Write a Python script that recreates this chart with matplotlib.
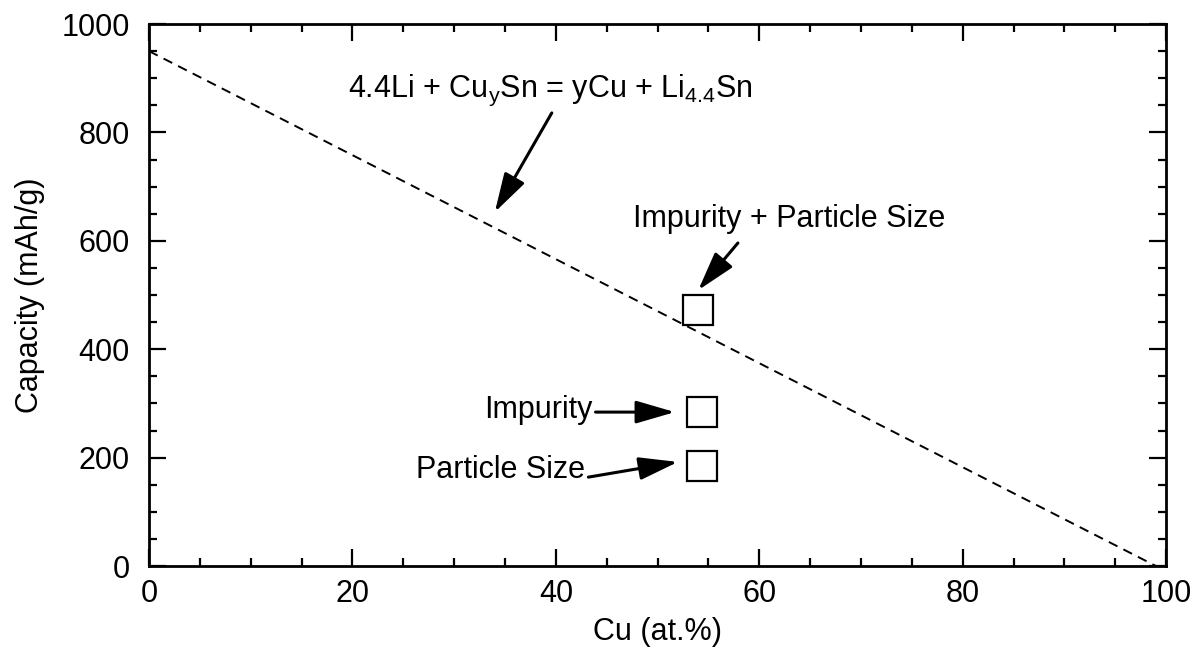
import matplotlib
matplotlib.use("Agg")
import matplotlib.pyplot as plt
from matplotlib.ticker import MultipleLocator

plt.rcParams['font.family'] = ['Liberation Sans', 'DejaVu Sans']
plt.rcParams['mathtext.default'] = 'regular'

# Theoretical line 4.4Li + CuySn = yCu + Li4.4Sn
line_cu = [0, 99]
line_capacity = [950, 0]

# Measured points
point_labels = ["Impurity + Particle Size", "Impurity", "Particle Size"]
point_cu = [54.0, 54.4, 54.4]
point_capacity = [472, 284, 185]

x_ticks = [0, 20, 40, 60, 80, 100]
y_ticks = [0, 200, 400, 600, 800, 1000]

FS = 22

fig = plt.figure(figsize=(11.96, 6.53), dpi=100)
ax = fig.add_axes([0.1246, 0.1332, 0.8504, 0.83])

ax.plot(line_cu, line_capacity, color='black', lw=1.4, linestyle=(0, (5, 3.4)))
ax.plot(point_cu, point_capacity, linestyle='none', marker='s', markersize=21,
        markerfacecolor='white', markeredgecolor='black', markeredgewidth=1.6)

ax.set_xlim(0, 100)
ax.set_ylim(0, 1000)
ax.set_xticks(x_ticks)
ax.set_yticks(y_ticks)
ax.xaxis.set_minor_locator(MultipleLocator(5))
ax.yaxis.set_minor_locator(MultipleLocator(50))
ax.tick_params(which='both', direction='in', top=True, right=True, width=1.6,
               labelsize=FS)
ax.tick_params(axis='x', pad=9)
ax.tick_params(axis='y', pad=14)
ax.tick_params(which='major', length=12)
ax.tick_params(which='minor', length=6)
for s in ax.spines.values():
    s.set_linewidth(2)

ax.set_xlabel("Cu (at.%)", fontsize=FS, labelpad=6)
ax.set_ylabel("Capacity (mAh/g)", fontsize=FS, labelpad=12)

arrow = dict(arrowstyle='-|>,head_length=1.2,head_width=0.35', color='black',
             lw=2.2, mutation_scale=20, shrinkA=0, shrinkB=0)

ax.text(19.6, 865, "4.4Li + Cu$_{y}$Sn = yCu + Li$_{4.4}$Sn", fontsize=FS,
        ha='left', va='baseline')
ax.annotate("", xy=(34.0, 653), xytext=(39.6, 836), arrowprops=arrow)

ax.text(47.6, 625, point_labels[0], fontsize=FS, ha='left', va='baseline')
ax.annotate("", xy=(54.0, 509), xytext=(57.9, 596), arrowprops=arrow)

ax.text(43.6, 273, point_labels[1], fontsize=FS, ha='right', va='baseline')
ax.annotate("", xy=(51.7, 284), xytext=(43.9, 284), arrowprops=arrow)

ax.text(42.9, 162, point_labels[2], fontsize=FS, ha='right', va='baseline')
ax.annotate("", xy=(52.0, 192), xytext=(43.2, 164), arrowprops=arrow)

fig.savefig("out.png", dpi=100)
